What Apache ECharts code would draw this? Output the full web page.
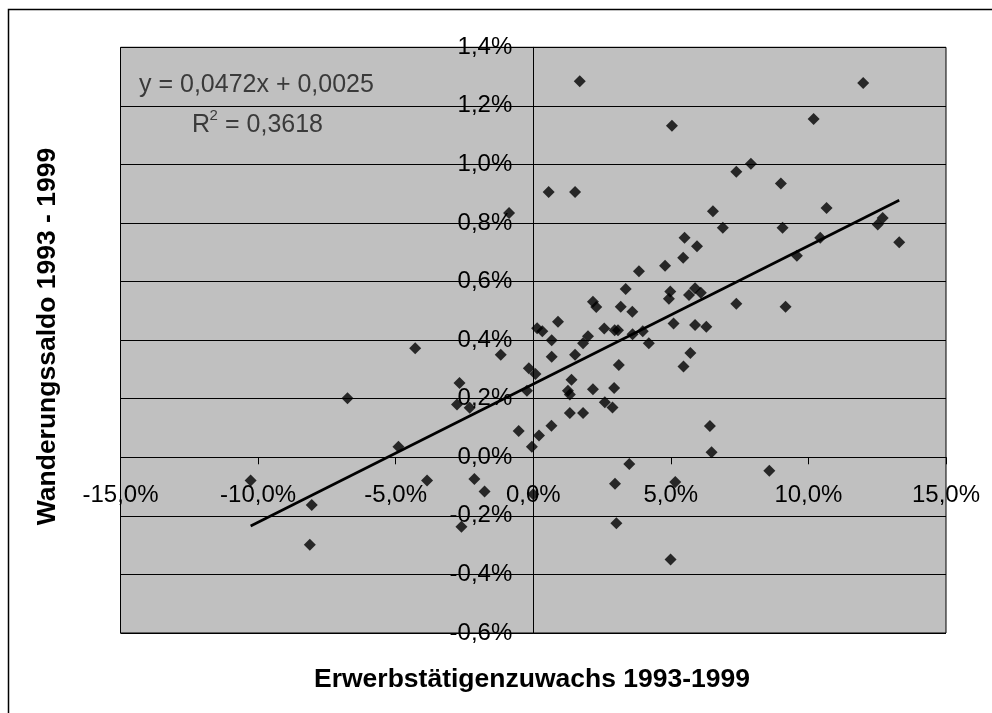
<!DOCTYPE html>
<html>
<head>
<meta charset="utf-8">
<style>
html,body{margin:0;padding:0;background:#fff;}
#chart{width:992px;height:713px;}
</style>
<script src="https://cdn.jsdelivr.net/npm/echarts@6.0.0/dist/echarts.min.js"></script>
</head>
<body>
<div id="chart"></div>
<script>
// Erwerbstätigenzuwachs 1993-1999 (in %)
var growth = [-10.27,-8.05,-8.12,-6.75,-4.90,-4.29,-3.86,-2.68,-2.77,-2.31,
  -2.14,-1.77,-2.61,-1.18,-0.88,-0.53,-0.23,-0.16,0.08,-0.05,
  0.0,0.21,0.14,0.33,0.67,0.67,0.66,0.90,0.56,1.52,
  1.69,1.39,1.26,1.33,1.33,1.81,1.52,1.81,1.99,2.17,
  2.17,2.29,2.58,2.60,2.88,2.94,2.96,3.08,3.11,3.18,
  3.36,3.60,3.61,3.98,3.84,4.20,3.49,2.97,3.02,4.79,
  4.98,4.93,5.10,5.04,5.16,4.99,5.45,5.50,5.66,5.88,
  6.09,5.95,5.88,6.29,5.71,5.46,6.42,6.48,6.53,6.89,
  7.38,7.91,7.38,8.58,9.00,9.06,9.17,9.58,10.19,10.43,
  10.66,11.99,12.52,12.70,13.30];
// Wanderungssaldo 1993 - 1999 (in %)
var migration = [-0.079,-0.163,-0.299,0.202,0.036,0.372,-0.079,0.254,0.180,0.169,
  -0.074,-0.117,-0.237,0.350,0.834,0.090,0.227,0.304,0.284,0.036,
  -0.126,0.074,0.441,0.430,0.400,0.343,0.108,0.463,0.906,0.906,
  1.284,0.265,0.227,0.214,0.151,0.151,0.350,0.389,0.413,0.232,
  0.531,0.513,0.440,0.188,0.170,0.237,0.434,0.434,0.315,0.514,
  0.575,0.497,0.420,0.430,0.635,0.389,-0.023,-0.090,-0.225,0.654,
  0.566,0.541,0.457,1.132,-0.084,-0.349,0.681,0.750,0.554,0.577,
  0.562,0.721,0.452,0.446,0.356,0.310,0.107,0.017,0.840,0.784,
  0.975,1.002,0.524,-0.046,0.935,0.784,0.514,0.688,1.155,0.750,
  0.851,1.278,0.795,0.817,0.734];
// linear trend (fractions): y = 0.0472x + 0.0025
var trendSlope = 0.0472;
var trendIntercept = 0.0025;
var trendLabel = 'y = 0,0472x + 0,0025';
var r2Label = '= 0,3618';
var xTicks = {min: -15, max: 15, step: 5};
var yTicks = {min: -0.6, max: 1.4, step: 0.2};
var xTitle = 'Erwerbstätigenzuwachs 1993-1999';
var yTitle = 'Wanderungssaldo 1993 - 1999';

var points = growth.map(function (g, i) { return [g, migration[i]]; });
var xmin = Math.min.apply(null, growth), xmax = Math.max.apply(null, growth);
function trend(xp) { return trendSlope * xp + trendIntercept * 100; }
var trendData = [[xmin, trend(xmin)], [xmax, trend(xmax)]];

function fmt(v) { return v.toFixed(1).replace('.', ',') + '%'; }
var FONT = '"Liberation Sans", Arial, sans-serif';

var W = 992, H = 713;
var G = {left: 120.5, top: 47.3, right: 46, bottom: 80};
var gridW = W - G.left - G.right, gridH = H - G.top - G.bottom;
// place axes through the origin (0,0)
var xAxisOffset = -gridH * (0 - yTicks.min) / (yTicks.max - yTicks.min);
var yAxisOffset = -gridW * (0 - xTicks.min) / (xTicks.max - xTicks.min);

var chart = echarts.init(document.getElementById('chart'), null, {renderer: 'canvas'});
chart.setOption({
  animation: false,
  backgroundColor: '#fff',
  grid: {left: G.left, top: G.top, right: G.right, bottom: G.bottom, show: true,
    backgroundColor: '#C0C0C0', borderColor: '#000', borderWidth: 1},
  xAxis: {
    type: 'value', min: xTicks.min, max: xTicks.max, interval: xTicks.step,
    position: 'bottom', offset: xAxisOffset,
    axisLine: {show: true, onZero: false, lineStyle: {color: '#000', width: 1}},
    axisTick: {show: true, inside: false, length: 7, lineStyle: {color: '#000'}},
    axisLabel: {margin: 26, fontSize: 24, color: '#000', fontFamily: FONT, formatter: fmt},
    splitLine: {show: false}
  },
  yAxis: {
    type: 'value', min: yTicks.min, max: yTicks.max, interval: yTicks.step,
    position: 'left', offset: yAxisOffset,
    axisLine: {show: true, onZero: false, lineStyle: {color: '#000', width: 1}},
    axisTick: {show: true, inside: false, length: 7, lineStyle: {color: '#000'}},
    axisLabel: {margin: 21, fontSize: 24, color: '#000', fontFamily: FONT, formatter: fmt},
    splitLine: {show: true, lineStyle: {color: '#000', width: 1}}
  },
  series: [
    {type: 'scatter', data: points, symbol: 'diamond', symbolSize: 12,
      itemStyle: {color: '#000'}, z: 3},
    {type: 'line', data: trendData, symbol: 'none', lineStyle: {color: '#000', width: 2.6}, z: 4}
  ],
  graphic: [
    {type: 'rect', shape: {x: 8.5, y: 9.5, width: 1000, height: 800}, silent: true,
      style: {fill: 'none', stroke: '#000', lineWidth: 1.5}, z: 0},
    {type: 'text', x: 139, y: 85, z: 10,
      style: {text: trendLabel, font: '25px ' + FONT, fill: '#3a3a3a', textVerticalAlign: 'middle'}},
    {type: 'text', x: 192, y: 125, z: 10,
      style: {text: 'R', font: '25px ' + FONT, fill: '#3a3a3a', textVerticalAlign: 'middle'}},
    {type: 'text', x: 209.5, y: 116, z: 10,
      style: {text: '2', font: '15px ' + FONT, fill: '#3a3a3a', textVerticalAlign: 'middle'}},
    {type: 'text', x: 225, y: 125, z: 10,
      style: {text: r2Label, font: '25px ' + FONT, fill: '#3a3a3a', textVerticalAlign: 'middle'}},
    {type: 'text', x: 532, y: 680, z: 10,
      style: {text: xTitle, font: 'bold 26.5px ' + FONT, fill: '#000', textAlign: 'center', textVerticalAlign: 'middle'}},
    {type: 'text', x: 48, y: 336.5, rotation: Math.PI / 2, z: 10,
      style: {text: yTitle, font: 'bold 26.5px ' + FONT, fill: '#000', textAlign: 'center', textVerticalAlign: 'middle'}}
  ]
});
</script>
</body>
</html>
